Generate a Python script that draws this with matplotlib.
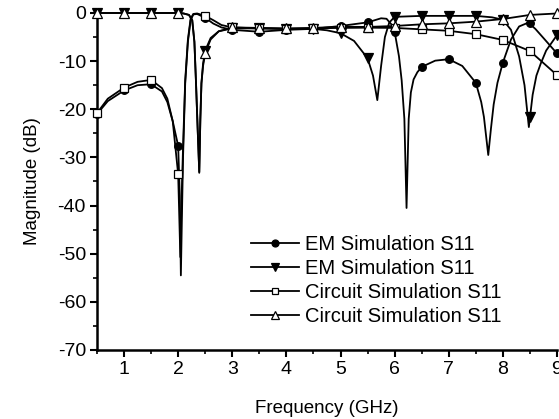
import matplotlib
matplotlib.use("Agg")
import matplotlib.pyplot as plt
from matplotlib.lines import Line2D

plt.rcParams['font.family'] = ['Liberation Sans', 'DejaVu Sans']
plt.rcParams['axes.unicode_minus'] = False

# ---- data ----
# EM Simulation S11 (filled circles)
em1_f = [0.5, 0.7, 1.0, 1.25, 1.5, 1.7, 1.8, 1.9, 2.0, 2.03, 2.05, 2.07, 2.09, 2.13, 2.18, 2.23, 2.28, 2.35,
         2.5, 2.65, 2.8, 3.0, 3.5, 4.0, 4.5, 5.0, 5.5, 5.75, 5.85, 5.95, 6.0, 6.08, 6.13, 6.18, 6.22, 6.26, 6.3,
         6.35, 6.42, 6.5, 6.75, 7.0, 7.25, 7.5, 7.6, 7.65, 7.73, 7.78, 7.83, 7.9, 8.0, 8.15, 8.3, 8.47, 8.6,
         8.75, 9.0]
em1_m = [-21.0, -18.3, -16.1, -15.0, -14.8, -16.3, -18.5, -22.5, -27.6, -38, -54.5, -42, -30, -14.6, -6.0,
         -1.5, -0.3, -0.2, -1.0, -2.2, -3.0, -3.5, -3.9, -3.5, -3.3, -2.7, -1.95, -1.1, -1.2, -2.5, -3.9, -9,
         -14, -22, -40.5, -22, -16.5, -13.8, -12.3, -11.2, -9.9, -9.6, -11.0, -14.5, -18.5, -21.6, -29.5, -24,
         -19, -14.5, -10.3, -5.5, -2.8, -2.0, -3.3, -5.2, -8.4]
em1_mk_f = [0.5, 1.0, 1.5, 2.0, 2.5, 3.0, 3.5, 4.0, 4.5, 5.0, 5.5, 6.0, 6.5, 7.0, 7.5, 8.0, 8.5, 9.0]
em1_mk_m = [-21.0, -16.1, -14.8, -27.6, -1.0, -3.5, -3.9, -3.5, -3.3, -2.7, -1.95, -3.9, -11.2, -9.6,
            -14.5, -10.3, -2.0, -8.4]

# EM Simulation S11 (filled down-triangles)
em2_f = [0.5, 1.0, 1.5, 2.0, 2.1, 2.2, 2.26, 2.3, 2.33, 2.36, 2.39, 2.41, 2.43, 2.46, 2.5, 2.6, 2.75, 3.0,
         3.5, 4.0, 4.5, 4.75, 5.0, 5.25, 5.5, 5.6, 5.68, 5.75, 5.82, 5.9, 6.0, 6.5, 7.0, 7.5, 7.8, 8.0, 8.15,
         8.3, 8.4, 8.48, 8.55, 8.62, 8.7, 8.8, 9.0]
em2_m = [0.0, 0.0, 0.0, 0.0, -0.1, -0.4, -1.5, -6.0, -14.6, -24, -33.2, -22, -14.6, -10.5, -7.8, -5.2, -3.8,
         -3.2, -3.2, -3.3, -3.3, -3.6, -4.2, -5.8, -9.4, -13, -18.1, -11, -5, -2, -0.8, -0.6, -0.6, -0.6, -0.9,
         -1.4, -3.5, -9, -15, -23.7, -17, -13, -10.5, -7.8, -4.6]
em2_mk_f = [0.5, 1.0, 1.5, 2.0, 2.5, 3.0, 3.5, 4.0, 4.5, 5.0, 5.5, 6.0, 6.5, 7.0, 7.5, 8.0, 8.5, 9.0]
em2_mk_m = [0.0, 0.0, 0.0, 0.0, -7.8, -3.2, -3.2, -3.3, -3.3, -4.2, -9.4, -0.8, -0.6, -0.6, -0.6, -1.4,
            -21.6, -4.6]

# Circuit Simulation S11 (open squares)
ck1_f = [0.5, 0.7, 1.0, 1.25, 1.5, 1.7, 1.8, 1.9, 2.0, 2.02, 2.04, 2.06, 2.09, 2.13, 2.18, 2.23, 2.28, 2.35,
         2.5, 2.65, 2.8, 3.0, 3.5, 4.0, 4.5, 5.0, 5.5, 6.0, 6.5, 7.0, 7.5, 8.0, 8.5, 9.0]
ck1_m = [-20.8, -17.8, -15.5, -14.3, -13.9, -15.6, -17.8, -22.5, -33.5, -42, -50.7, -40, -28, -14.0, -5.5,
         -1.2, -0.2, -0.1, -0.6, -1.5, -2.5, -3.0, -3.2, -3.3, -3.2, -3.1, -3.05, -3.1, -3.4, -3.7, -4.4,
         -5.6, -7.9, -12.9]
ck1_mk_f = [0.5, 1.0, 1.5, 2.0, 2.5, 3.0, 3.5, 4.0, 4.5, 5.0, 5.5, 6.0, 6.5, 7.0, 7.5, 8.0, 8.5, 9.0]
ck1_mk_m = [-20.8, -15.5, -13.9, -33.5, -0.6, -3.0, -3.2, -3.3, -3.2, -3.1, -3.05, -3.1, -3.4, -3.7,
            -4.4, -5.6, -7.9, -12.9]

# Circuit Simulation S11 (open up-triangles)
ck2_f = [0.5, 1.0, 1.5, 2.0, 2.1, 2.2, 2.26, 2.3, 2.33, 2.36, 2.39, 2.41, 2.43, 2.46, 2.5, 2.6, 2.75, 3.0,
         3.5, 4.0, 4.5, 5.0, 5.5, 6.0, 6.5, 7.0, 7.5, 8.0, 8.5, 9.0]
ck2_m = [0.0, 0.0, 0.0, 0.0, -0.1, -0.4, -1.5, -6.0, -14.6, -24, -33.0, -22, -14.6, -11.0, -8.3, -5.5,
         -3.8, -3.0, -3.1, -3.2, -3.1, -2.85, -2.9, -2.7, -2.35, -2.15, -1.8, -1.25, -0.4, -0.1]
ck2_mk_f = [0.5, 1.0, 1.5, 2.0, 2.5, 3.0, 3.5, 4.0, 4.5, 5.0, 5.5, 6.0, 6.5, 7.0, 7.5, 8.0, 8.5, 9.0]
ck2_mk_m = [0.0, 0.0, 0.0, 0.0, -8.3, -3.0, -3.1, -3.2, -3.1, -2.85, -2.9, -2.7, -2.35, -2.15, -1.8,
            -1.25, -0.4, -0.1]

labels = ["EM Simulation S11", "EM Simulation S11", "Circuit Simulation S11", "Circuit Simulation S11"]
xticks = [1, 2, 3, 4, 5, 6, 7, 8, 9]
yticks = [0, -10, -20, -30, -40, -50, -60, -70]

# ---- figure ----
fig = plt.figure(figsize=(5.59, 4.19), dpi=100)
ax = fig.add_axes([0.1735, 0.1647, 0.8229, 0.8043])

series = [
    (em1_f, em1_m, em1_mk_f, em1_mk_m, 'o', 'black', 5.5),
    (em2_f, em2_m, em2_mk_f, em2_mk_m, 'v', 'black', 6.5),
    (ck1_f, ck1_m, ck1_mk_f, ck1_mk_m, 's', 'white', 5.5),
    (ck2_f, ck2_m, ck2_mk_f, ck2_mk_m, '^', 'white', 6.5),
]
handles = []
for (f, m, mf, mm, mk, fc, ms), lab in zip(series, labels):
    ax.plot(f, m, color='black', lw=1.3, clip_on=False, zorder=3)
    ax.plot(mf, mm, ls='none', marker=mk, ms=ms, mfc=fc, mec='black', mew=0.9,
            clip_on=False, zorder=4)
    handles.append(Line2D([], [], color='black', lw=1.3, marker=mk, ms=ms - 0.5, mfc=fc,
                          mec='black', mew=0.9))

ax.set_xlim(0.5, 9)
ax.set_ylim(-70, 0)
ax.set_xticks(xticks)
ax.set_yticks(yticks)
ax.set_xticks([1.5, 2.5, 3.5, 4.5, 5.5, 6.5, 7.5, 8.5, 0.5], minor=True)
ax.set_yticks([-5, -15, -25, -35, -45, -55, -65], minor=True)
ax.tick_params(which='major', direction='out', length=5, width=1.5, labelsize=14, pad=3)
ax.tick_params(which='minor', direction='out', length=3, width=1.2)
for s in ['top', 'right']:
    ax.spines[s].set_visible(False)
for s in ['left', 'bottom']:
    ax.spines[s].set_linewidth(1.8)

ax.set_xlabel("Frequency (GHz)", fontsize=13.5, labelpad=16)
ax.set_ylabel("Magnitude (dB)", fontsize=13.5, labelpad=12)

leg = ax.legend(handles, labels, loc='lower left', bbox_to_anchor=(0.335, 0.07),
                frameon=False, fontsize=14.5, handlelength=2.4, handletextpad=0.3,
                labelspacing=0.26, borderaxespad=0, borderpad=0)

fig.savefig("out.png", dpi=100)
